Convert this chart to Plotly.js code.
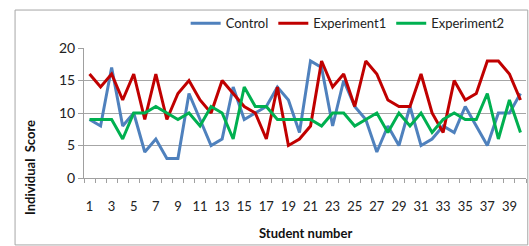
<!DOCTYPE html>
<html>
<head>
<meta charset="utf-8">
<script src="https://cdn.plot.ly/plotly-3.0.1.min.js"></script>
<style>html,body{margin:0;padding:0;background:#fff;}#chart{width:529px;height:246px;}</style>
</head>
<body>
<div id="chart"></div>
<script>
const students = Array.from({length: 40}, (_, i) => i + 1);
const control = [9,8,17,8,10,4,6,3,3,13, 9,5,6,14,9,10,11,14,12,7, 18,17,8,15,11,9,4,8,5,11, 5,6,8,7,11,8,5,10,10,13];
const experiment1 = [16,14,16,12,16,9,16,9,13,15, 12,10,15,13,11,10,6,14,5,6, 8,18,14,16,11,18,16,12,11,11, 16,10,7,15,12,13,18,18,16,12];
const experiment2 = [9,9,9,6,10,10,11,10,9,10, 8,11,10,6,14,11,11,9,9,9, 9,8,10,10,8,9,10,7,10,8, 10,7,9,10,9,9,13,6,12,7];
const xTicks = [1,3,5,7,9,11,13,15,17,19,21,23,25,27,29,31,33,35,37,39];
const yTicks = [0,5,10,15,20];

const font = 'Lato, "Open Sans", sans-serif';
const mk = (y, name, color) => ({x: students, y: y, name: name, type: 'scatter', mode: 'lines',
  line: {color: color, width: 3}});

const data = [
  mk(control, 'Control', '#4f81bd'),
  mk(experiment1, 'Experiment1', '#c00000'),
  mk(experiment2, 'Experiment2', '#00b050')
];

const layout = {
  width: 529, height: 246,
  margin: {l: 84, r: 3, t: 48, b: 68},
  paper_bgcolor: '#fff', plot_bgcolor: '#fff',
  font: {family: font, size: 13, color: '#222'},
  showlegend: true,
  legend: {orientation: 'h', x: 0.23, y: 1.19, xanchor: 'left', yanchor: 'middle',
    font: {family: font, size: 13, color: '#222'}, itemwidth: 30, bgcolor: 'rgba(0,0,0,0)'},
  xaxis: {range: [0.5, 40.5], tickmode: 'array', tickvals: xTicks, ticktext: xTicks.map(String),
    ticks: '', ticklabelstandoff: 16, showgrid: false, zeroline: false,
    showline: true, linecolor: '#a0a0a0', linewidth: 1,
    minor: {tickmode: 'linear', tick0: 0.5, dtick: 1, ticks: 'outside', ticklen: 4, tickcolor: '#a0a0a0', showgrid: false},
    tickfont: {family: font, size: 13, color: '#222'}, fixedrange: true},
  yaxis: {range: [0, 20], tickmode: 'array', tickvals: yTicks, ticks: 'outside', ticklen: 5, tickcolor: '#a0a0a0',
    showgrid: true, gridcolor: '#a6a6a6', gridwidth: 1, zeroline: false,
    showline: true, linecolor: '#a0a0a0', linewidth: 1,
    tickfont: {family: font, size: 14, color: '#222'}, fixedrange: true},
  annotations: [
    {text: '<b>Student number</b>', xref: 'paper', yref: 'paper', x: 0.5, y: -0.42, xanchor: 'center', yanchor: 'middle',
      showarrow: false, font: {family: font, size: 13, color: '#111'}},
    {text: '<b>Individual  Score</b>', xref: 'paper', yref: 'paper', x: -0.122, y: 0.077, xanchor: 'center', yanchor: 'middle',
      textangle: -90, showarrow: false, font: {family: font, size: 13, color: '#111'}}
  ],
  shapes: [
    {type: 'rect', xref: 'paper', yref: 'paper', x0: -0.156, x1: 1.004, y0: -0.515, y1: 1.292,
      line: {color: '#a6a6a6', width: 1}, fillcolor: 'rgba(0,0,0,0)', layer: 'below'}
  ]
};

Plotly.newPlot('chart', data, layout, {displayModeBar: false, staticPlot: true});
</script>
</body>
</html>
